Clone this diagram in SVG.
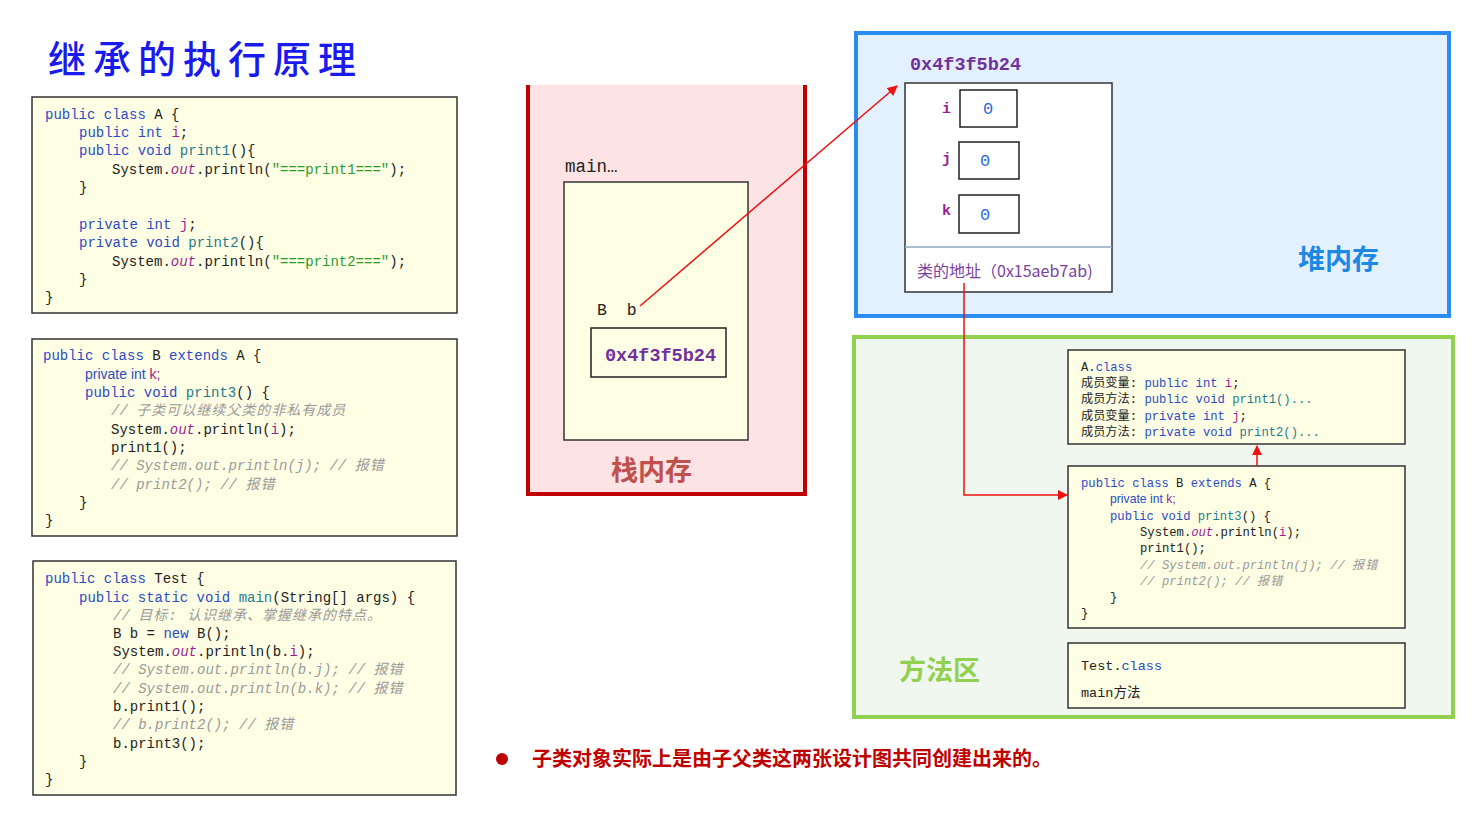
<svg xmlns="http://www.w3.org/2000/svg" width="1473" height="825" viewBox="0 0 1473 825">
<defs>
<style>
.code{font-family:"Liberation Mono","Noto Sans CJK SC",monospace;font-size:14px;fill:#222}
.sm{font-size:12.2px}
.kw{fill:#2d4bc4}
.fld{fill:#9b1f93}
.fn{fill:#1f7c8c}
.str{fill:#2a9a2a}
.out{fill:#9b1f93;font-style:italic}
.cm{fill:#9a9a9a;font-style:italic}
.zh{letter-spacing:1px}
.sans{font-family:"Liberation Sans",sans-serif}
.box{fill:#fefee4;stroke:#333;stroke-width:1.5}
.cjk{font-family:"Noto Sans CJK SC",sans-serif}
.wire{fill:none;stroke:#ee1111;stroke-width:1.5}
</style>
<marker id="ah" viewBox="0 0 10 10" refX="9" refY="5" markerWidth="7" markerHeight="7" orient="auto">
<path d="M0,0 L10,5 L0,10 z" fill="#ee1111"/>
</marker>
</defs>
<rect width="1473" height="825" fill="#ffffff"/>

<g id="title">
<text x="48" y="73" class="cjk" style="font-size:38px;font-weight:500;letter-spacing:7px" fill="#1a1aee">继承的执行原理</text>
</g>

<g id="codeA">
<rect class="box" x="32" y="97" width="425" height="216"/>
<text class="code" x="45" y="119"><tspan class="kw">public class</tspan> A {</text>
<text class="code" x="79" y="137"><tspan class="kw">public int</tspan> <tspan class="fld">i</tspan>;</text>
<text class="code" x="79" y="155"><tspan class="kw">public void</tspan> <tspan class="fn">print1</tspan>(){</text>
<text class="code" x="112" y="174">System.<tspan class="out">out</tspan>.println(<tspan class="str">"===print1==="</tspan>);</text>
<text class="code" x="79" y="192">}</text>
<text class="code" x="79" y="229"><tspan class="kw">private int</tspan> <tspan class="fld">j</tspan>;</text>
<text class="code" x="79" y="247"><tspan class="kw">private void</tspan> <tspan class="fn">print2</tspan>(){</text>
<text class="code" x="112" y="266">System.<tspan class="out">out</tspan>.println(<tspan class="str">"===print2==="</tspan>);</text>
<text class="code" x="79" y="284">}</text>
<text class="code" x="45" y="302">}</text>
</g>

<g id="codeB">
<rect class="box" x="32" y="339" width="425" height="197"/>
<text class="code" x="43" y="360"><tspan class="kw">public class</tspan> B <tspan class="kw">extends</tspan> A {</text>
<text class="code sans" x="85" y="379"><tspan class="kw">private int</tspan> <tspan class="fld">k;</tspan></text>
<text class="code" x="85" y="397"><tspan class="kw">public void</tspan> <tspan class="fn">print3</tspan>() {</text>
<text class="code cm" x="111" y="415">// <tspan class="zh">子类可以继续父类的非私有成员</tspan></text>
<text class="code" x="111" y="434">System.<tspan class="out">out</tspan>.println(<tspan class="fld">i</tspan>);</text>
<text class="code" x="111" y="452">print1();</text>
<text class="code cm" x="111" y="470">// System.out.println(j); // <tspan class="zh">报错</tspan></text>
<text class="code cm" x="111" y="489">// print2(); // <tspan class="zh">报错</tspan></text>
<text class="code" x="79" y="507">}</text>
<text class="code" x="45" y="525">}</text>
</g>

<g id="codeTest">
<rect class="box" x="33" y="561" width="423" height="234"/>
<text class="code" x="45" y="583"><tspan class="kw">public class</tspan> Test {</text>
<text class="code" x="79" y="602"><tspan class="kw">public static void</tspan> <tspan class="fn">main</tspan>(String[] args) {</text>
<text class="code cm" x="113" y="620">// <tspan class="zh">目标: 认识继承、掌握继承的特点。</tspan></text>
<text class="code" x="113" y="638">B b = <tspan class="kw">new</tspan> B();</text>
<text class="code" x="113" y="656">System.<tspan class="out">out</tspan>.println(b.<tspan class="fld">i</tspan>);</text>
<text class="code cm" x="113" y="674">// System.out.println(b.j); // <tspan class="zh">报错</tspan></text>
<text class="code cm" x="113" y="693">// System.out.println(b.k); // <tspan class="zh">报错</tspan></text>
<text class="code" x="113" y="711">b.print1();</text>
<text class="code cm" x="113" y="729">// b.print2(); // <tspan class="zh">报错</tspan></text>
<text class="code" x="113" y="748">b.print3();</text>
<text class="code" x="79" y="766">}</text>
<text class="code" x="45" y="784">}</text>
</g>

<g id="stack">
<rect x="527" y="85" width="279" height="409" fill="#fde3e3"/>
<path d="M528,85 V494 H805 V85" fill="none" stroke="#c00000" stroke-width="4"/>
<text class="code" x="565" y="172" style="font-size:17.5px">main…</text>
<rect class="box" x="564" y="182" width="184" height="258"/>
<text class="code" x="597" y="315" style="font-size:16.5px" xml:space="preserve">B  b</text>
<rect x="591" y="328" width="135" height="49" fill="none" stroke="#222" stroke-width="1.5"/>
<text class="code" x="605" y="361" style="font-size:18.5px;font-weight:bold;fill:#7030a0">0x4f3f5b24</text>
<text class="cjk" x="611" y="480" style="font-size:27px;font-weight:bold;fill:#c0504d">栈内存</text>
</g>

<g id="heap">
<rect x="856" y="33" width="593" height="283" fill="#e3f0fd" stroke="#2a8cf0" stroke-width="4"/>
<text class="code" x="910" y="70" style="font-size:18.5px;font-weight:bold;fill:#7030a0">0x4f3f5b24</text>
<rect x="905" y="83" width="207" height="209" fill="#ffffff" stroke="#333" stroke-width="1.5"/>
<line x1="905" y1="247" x2="1112" y2="247" stroke="#8fa8c0" stroke-width="1.5"/>
<text class="code" x="942" y="113" style="font-size:15px;font-weight:bold;fill:#9b1f93">i</text>
<rect x="960" y="90" width="57" height="37" fill="#fff" stroke="#222" stroke-width="1.5"/>
<text class="code" x="983" y="114" style="font-size:17px;fill:#2a6ae0">0</text>
<text class="code" x="942" y="163" style="font-size:15px;font-weight:bold;fill:#9b1f93">j</text>
<rect x="959" y="142" width="60" height="37" fill="#fff" stroke="#222" stroke-width="1.5"/>
<text class="code" x="980" y="166" style="font-size:17px;fill:#2a6ae0">0</text>
<text class="code" x="942" y="215" style="font-size:15px;font-weight:bold;fill:#9b1f93">k</text>
<rect x="959" y="195" width="60" height="38" fill="#fff" stroke="#222" stroke-width="1.5"/>
<text class="code" x="980" y="220" style="font-size:17px;fill:#2a6ae0">0</text>
<text class="cjk" x="917" y="277" style="font-size:16px;fill:#7a3fa0">类的地址（0x15aeb7ab)</text>
<text class="cjk" x="1298" y="269" style="font-size:27px;font-weight:bold;fill:#1e88e5">堆内存</text>
</g>

<g id="methodArea">
<rect x="854" y="337" width="599" height="380" fill="#f0f7ee" stroke="#92d050" stroke-width="4"/>
<text class="cjk" x="899" y="680" style="font-size:27px;font-weight:bold;fill:#92d050">方法区</text>
</g>

<g id="classA">
<rect class="box" x="1068" y="350" width="337" height="94"/>
<text class="code sm" x="1081" y="371">A.<tspan class="kw">class</tspan></text>
<text class="code sm" x="1081" y="387">成员变量: <tspan class="kw">public int</tspan> <tspan class="fld">i</tspan>;</text>
<text class="code sm" x="1081" y="403">成员方法: <tspan class="kw">public void</tspan> <tspan class="fn">print1()...</tspan></text>
<text class="code sm" x="1081" y="420">成员变量: <tspan class="kw">private int</tspan> <tspan class="fld">j</tspan>;</text>
<text class="code sm" x="1081" y="436">成员方法: <tspan class="kw">private void</tspan> <tspan class="fn">print2()...</tspan></text>
</g>

<g id="classB">
<rect class="box" x="1068" y="466" width="337" height="162"/>
<text class="code sm" x="1081" y="487"><tspan class="kw">public class</tspan> B <tspan class="kw">extends</tspan> A {</text>
<text class="code sm sans" x="1110" y="503"><tspan class="kw">private int</tspan> <tspan class="fld">k;</tspan></text>
<text class="code sm" x="1110" y="520"><tspan class="kw">public void</tspan> <tspan class="fn">print3</tspan>() {</text>
<text class="code sm" x="1140" y="536">System.<tspan class="out">out</tspan>.println(<tspan class="fld">i</tspan>);</text>
<text class="code sm" x="1140" y="552">print1();</text>
<text class="code sm cm" x="1140" y="569">// System.out.println(j); // <tspan class="zh">报错</tspan></text>
<text class="code sm cm" x="1140" y="585">// print2(); // <tspan class="zh">报错</tspan></text>
<text class="code sm" x="1110" y="601">}</text>
<text class="code sm" x="1081" y="617">}</text>
</g>

<g id="classTest">
<rect class="box" x="1068" y="643" width="337" height="65"/>
<text class="code" x="1081" y="670" style="font-size:13.5px">Test.<tspan class="kw">class</tspan></text>
<text class="code" x="1081" y="697" style="font-size:13.5px">main方法</text>
</g>

<g id="connectors">
<line class="wire" x1="640" y1="306" x2="897" y2="86" marker-end="url(#ah)"/>
<polyline class="wire" points="964,283 964,495 1067,495" marker-end="url(#ah)"/>
<line class="wire" x1="1257" y1="466" x2="1257" y2="446" marker-end="url(#ah)"/>
</g>

<g id="note">
<circle cx="502" cy="759" r="6" fill="#c00000"/>
<text class="cjk" x="532" y="766" style="font-size:20px;font-weight:bold;fill:#c00000">子类对象实际上是由子父类这两张设计图共同创建出来的。</text>
</g>
</svg>
